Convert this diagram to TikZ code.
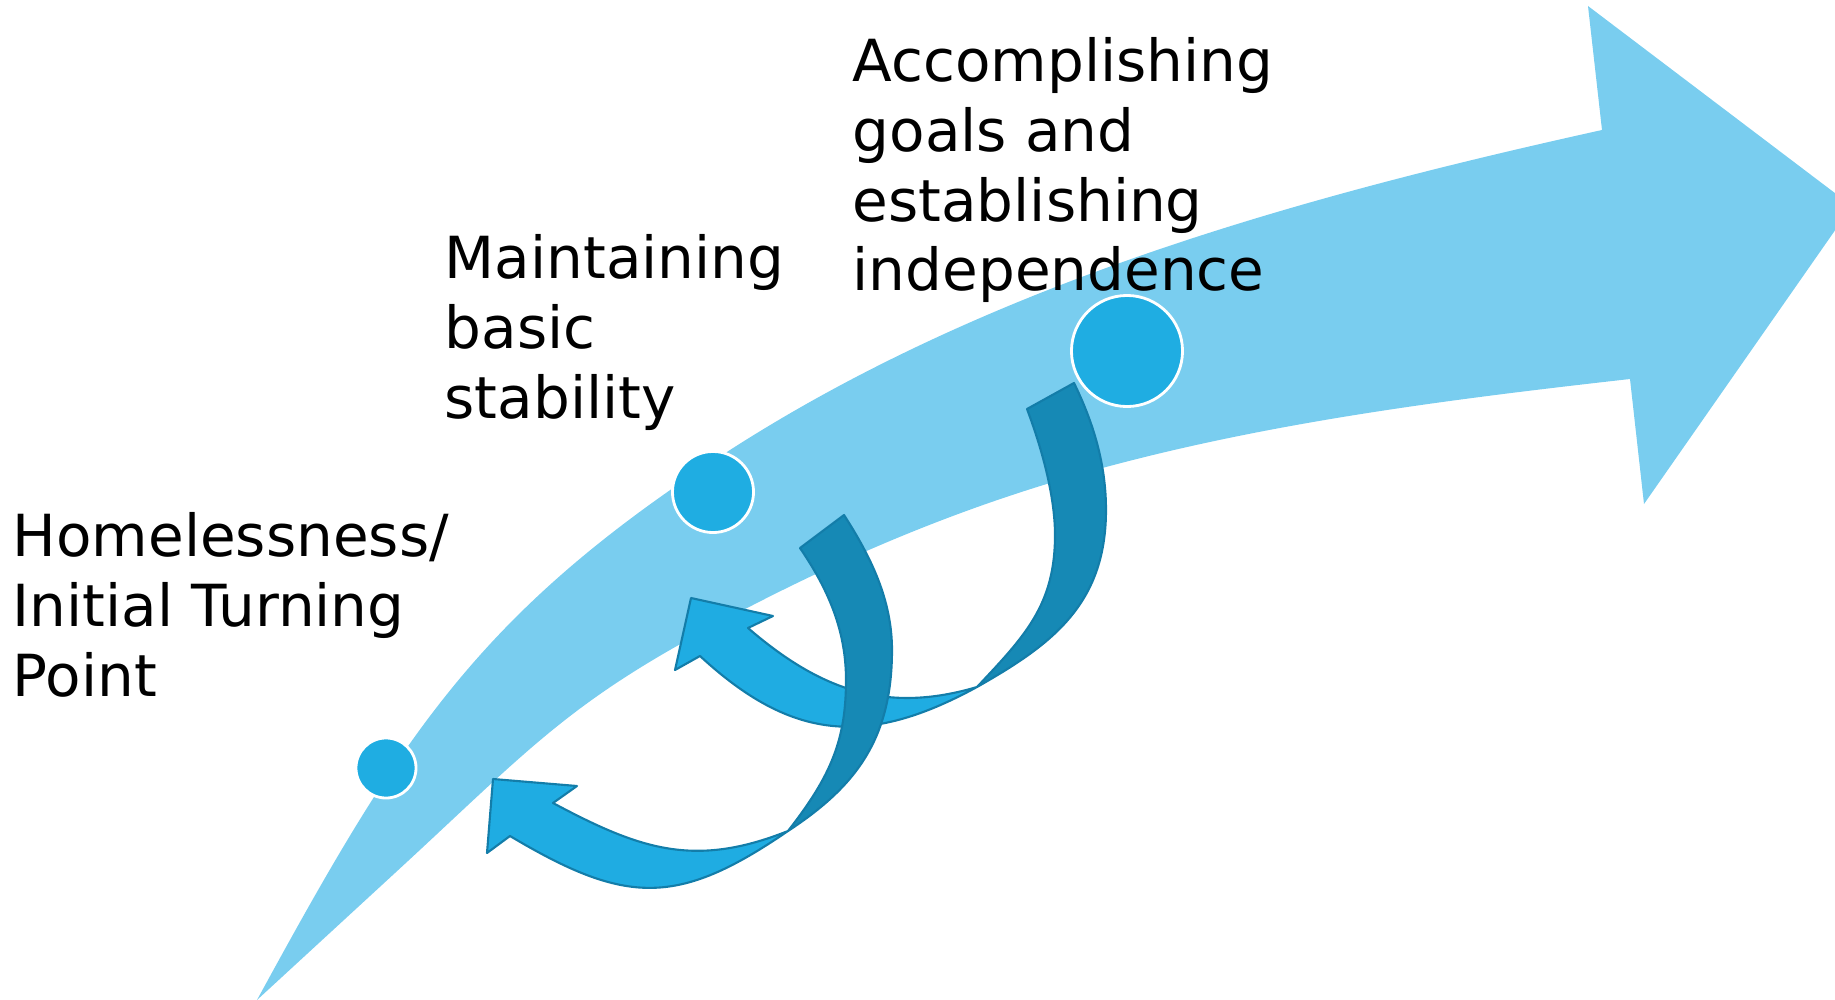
\documentclass[tikz,border=0pt]{standalone}
\usepackage{fontspec}
\setmainfont{DejaVu Sans}

\definecolor{bandblue}{HTML}{79CDEF}
\definecolor{dotblue}{HTML}{1FADE2}
\definecolor{backblue}{HTML}{1689B5}
\definecolor{frontblue}{HTML}{1FACE2}
\definecolor{edgeblue}{HTML}{137DA9}

\begin{document}
\begin{tikzpicture}[%
		x=0.01cm,
		y=-0.01cm,
		band/.style={%
			fill=bandblue,
			draw=none
		},
		dot/.style={%
			circle,
			fill=dotblue,
			draw=white,
			line width=0.8pt,
			inner sep=0pt
		},
		backface/.style={%
			fill=backblue,
			draw=edgeblue,
			line width=0.6pt,
			line join=round
		},
		frontface/.style={%
			fill=frontblue,
			draw=edgeblue,
			line width=0.6pt,
			line join=round
		},
		stage/.style={%
			font=\fontsize{16.5}{19.9}\selectfont,
			align=left,
			anchor=base west,
			inner sep=0pt
		}
		]
		\useasboundingbox (0,0) rectangle (1835,1000);
		\clip (0,0) rectangle (1835,1000);
		
		% the long curved arrow
		\fill[band] (257,1000) .. controls (401,736) and (478,612) .. (730,450)
		.. controls (990,283) and (1299,197) .. (1602,130)
		-- (1588,6) -- (1852,206) -- (1644,504) -- (1630,379)
		.. controls (1435,401) and (1238,426) .. (1050,483)
		.. controls (925,521) and (807,574) .. (693,637)
		.. controls (562,709) and (520,758) .. (395,873)
		-- cycle;
		
		% upper backward arrow
		\coordinate (twist2) at (977,687);
		\filldraw[backface] (1027,409) -- (1074,383)
		.. controls (1094,424) and (1106,465) .. (1106,510)
		.. controls (1106,605) and (1051,645) .. (twist2)
		.. controls (1025,636) and (1055,605) .. (1055,535)
		.. controls (1055,495) and (1041,446) .. (1027,409)
		-- cycle;
		\filldraw[frontface] (twist2)
		.. controls (886,714) and (820,690) .. (748,628)
		-- (773,616) -- (691,598) -- (675,670) -- (700,656)
		.. controls (792,741) and (867,747) .. (twist2)
		-- cycle;
		
		% lower backward arrow
		\coordinate (twist1) at (788,831);
		\filldraw[backface] (800,548) -- (844,515)
		.. controls (871,557) and (892,600) .. (892,650)
		.. controls (892,740) and (855,787) .. (twist1)
		.. controls (831,776) and (846,740) .. (846,680)
		.. controls (846,630) and (828,589) .. (800,548)
		-- cycle;
		\filldraw[frontface] (twist1)
		.. controls (695,868) and (641,850) .. (553,803)
		-- (577,786) -- (493,779) -- (487,853) -- (510,836)
		.. controls (626,905) and (677,907) .. (twist1)
		-- cycle;
		
		% stage markers
		\node[dot, minimum size=0.6cm]  (dot1) at (386,768)  {};
		\node[dot, minimum size=0.81cm] (dot2) at (713,492)  {};
		\node[dot, minimum size=1.11cm] (dot3) at (1127,351) {};
		
		\node[stage] (homeless)    at (12,696)  {Homelessness/\\Initial Turning\\Point};
		\node[stage] (stable)      at (444,418) {Maintaining\\basic\\stability};
		\node[stage] (independent) at (852,291) {Accomplishing\\goals and\\establishing\\independence};
		\end{tikzpicture}
\end{document}
